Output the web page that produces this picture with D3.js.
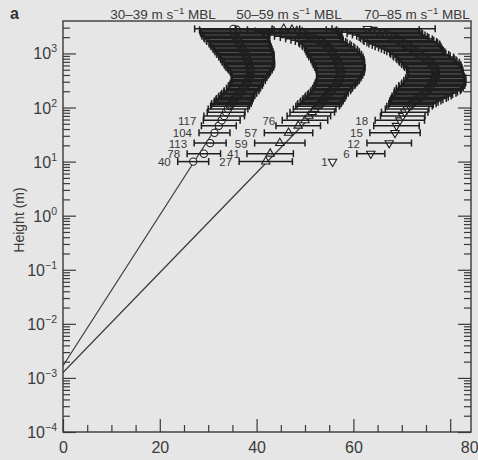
<!DOCTYPE html>
<html><head><meta charset="utf-8">
<script src="https://cdn.jsdelivr.net/npm/d3@7"></script>
<style>
body{margin:0;background:#e6e6e6;}
svg{display:block;font-family:"Liberation Sans",Arial,Helvetica,sans-serif;}
</style>
</head><body>
<svg id="c" width="478" height="460"></svg>
<script>
// ---------- data ----------
const categories = ["30–39", "50–59", "70–85"];
const heights = [10,14,22,34,46,58,70,82,94,106,
  112,118,125,132,139,147,155,164,173,183,
  193,204,216,228,241,255,269,284,300,317,
  335,354,374,395,418,442,467,494,522,552,
  583,616,651,688,727,768,812,858,907,959,
  1013,1071,1132,1196,1264,1336,1412,1492,1577,1667,
  1762,1862,1968,2080,2198,2323,2455,2595,2743,2850];

const meanA = [26.9,29.1,30.4,31.3,32.2,32.8,33.3,33.7,34.1,34.5,
  34.6,34.8,35.0,35.2,35.3,35.5,35.7,35.9,36.1,36.4,
  36.6,36.9,37.1,37.3,37.5,37.7,37.8,38.0,38.1,38.3,
  38.4,38.5,38.5,38.6,38.7,38.7,38.7,38.7,38.6,38.6,
  38.5,38.5,38.4,38.3,38.2,38.1,38.0,37.9,37.8,37.7,
  37.5,37.4,37.2,37.1,37.0,36.8,36.6,36.5,36.4,36.2,
  36.0,35.9,35.7,35.6,35.5,35.6,35.4,35.7,35.9,35.2];
const errA = [3.2,3.45,3.3,3.2,3.6,3.8,4.2,3.9,4.1,4.0,
  3.9,4.1,3.8,3.9,3.7,3.8,3.6,3.7,3.5,3.6,
  3.4,3.6,3.3,3.5,3.3,3.5,3.3,3.4,3.3,3.5,
  3.4,3.6,3.6,3.8,3.9,4.1,4.2,4.5,4.6,4.9,
  5.0,5.2,5.1,5.4,5.3,5.5,5.5,5.7,5.6,5.9,
  5.8,6.0,5.9,6.1,6.0,6.2,6.1,6.3,6.2,6.5,
  6.4,6.7,6.6,6.9,6.8,7.1,7.0,7.4,7.7,8.0];

const meanB = [41.9,42.8,44.8,46.6,48.6,50.0,50.8,51.5,52.0,52.6,
  52.8,53.0,53.3,53.5,53.7,53.9,54.1,54.3,54.5,54.8,
  55.0,55.3,55.5,55.7,55.9,56.1,56.3,56.4,56.6,56.8,
  56.9,57.0,57.1,57.2,57.2,57.3,57.3,57.3,57.3,57.2,
  57.1,57.0,57.0,56.9,56.8,56.7,56.6,56.4,56.2,56.1,
  55.9,55.7,55.6,55.4,55.1,54.8,54.5,54.1,53.7,53.2,
  52.5,51.9,51.2,50.5,49.9,49.2,49.4,48.3,47.3,45.6];
const errB = [5.5,4.8,5.2,5.0,4.6,4.7,4.5,4.6,4.4,4.5,
  4.4,4.5,4.3,4.4,4.2,4.3,4.1,4.2,4.0,4.1,
  3.9,4.1,4.0,4.1,4.0,4.2,4.1,4.3,4.3,4.4,
  4.4,4.6,4.5,4.7,4.7,4.9,4.8,5.0,5.0,5.2,
  5.1,5.3,5.2,5.4,5.3,5.5,5.4,5.6,5.4,5.6,
  5.4,5.5,5.3,5.4,5.2,5.3,5.1,5.2,5.0,5.2,
  5.4,5.9,6.3,6.8,7.2,7.7,8.2,8.6,9.2,10.0];

const meanC = [55.7,63.6,67.4,68.6,68.9,69.6,70.2,70.6,71.1,71.6,
  71.9,72.2,72.5,72.8,73.1,73.5,73.8,74.1,74.5,74.8,
  75.0,75.3,75.6,75.8,76.0,76.2,76.4,76.6,76.7,76.8,
  76.9,77.0,77.0,77.0,77.0,77.0,76.9,76.8,76.7,76.5,
  76.3,76.1,75.9,75.7,75.4,75.1,74.8,74.5,74.1,73.7,
  73.3,72.9,72.5,72.1,71.7,71.3,70.9,70.5,70.1,69.7,
  69.3,68.9,68.4,68.0,67.3,66.5,65.8,64.9,64.0,62.9];
const errC = [0,2.9,4.6,5.2,4.7,5.1,4.6,4.8,4.5,4.7,
  4.6,4.9,5.0,5.3,5.4,5.7,5.8,6.1,6.0,6.4,
  6.5,6.8,6.7,6.9,6.6,6.8,6.5,6.6,6.3,6.4,
  6.1,6.2,5.9,5.8,5.6,5.7,5.6,5.8,5.7,5.9,
  5.9,6.1,6.0,6.2,6.0,6.1,6.0,6.2,5.9,6.0,
  5.8,6.0,6.1,6.3,6.5,6.8,7.0,7.3,7.3,7.5,
  7.3,7.4,7.2,7.3,7.5,7.8,8.2,8.7,9.6,14.0];

// sample counts shown at the lowest levels
const countHeights = [10,14,22,34,58];
const countsA = [40,78,113,104,117];
const countsB = [27,41,59,57,76];
const countsC = [1,6,12,15,18];

// log-law fit lines (speed, height)
const fitSpeed1 = [0,34],  fitHeight1 = [0.00168,91];
const fitSpeed2 = [0,53],  fitHeight2 = [0.00126,99];

const xTicks = [0,20,40,60,80];
const xMinor = [5,10,15,25,30,35,45,50,55,65,70,75];
const yExponents = [-4,-3,-2,-1,0,1,2,3];

// ---------- chart ----------
const ink = "#1e1e1e", txt = "#3a3a3a";
const svg = d3.select("#c");
const x = d3.scaleLinear().domain([0,84.3]).range([63,471]);
const y = d3.scaleLog().domain([1e-4,3981]).range([432,21]);

const yMajor = yExponents.map(e => Math.pow(10,e));
const yMinor = [];
yExponents.forEach(e => { for (let k=2;k<=9;k++){ const v=k*Math.pow(10,e); if (v < 3981) yMinor.push(v);} });

function styleAxis(g){
  g.select(".domain").remove();
  g.selectAll(".tick line").attr("stroke", "#3a3a3a").attr("stroke-width",1.2);
}
svg.append("g").attr("transform","translate(63,0)")
  .call(d3.axisLeft(y).tickValues(yMajor).tickSize(-13).tickFormat("")).call(styleAxis);
svg.append("g").attr("transform","translate(63,0)")
  .call(d3.axisLeft(y).tickValues(yMinor).tickSize(-7).tickFormat("")).call(styleAxis);
svg.append("g").attr("transform","translate(471,0)")
  .call(d3.axisRight(y).tickValues(yMajor).tickSize(-13).tickFormat("")).call(styleAxis);
svg.append("g").attr("transform","translate(471,0)")
  .call(d3.axisRight(y).tickValues(yMinor).tickSize(-7).tickFormat("")).call(styleAxis);
const xg = svg.append("g").attr("transform","translate(0,432)")
  .call(d3.axisBottom(x).tickValues(xTicks).tickSize(-13).tickPadding(10).tickFormat(d3.format("d")));
styleAxis(xg);
xg.selectAll("text").attr("font-size",16).attr("fill",txt).attr("font-family","Liberation Sans, Arial, sans-serif");
xg.selectAll(".tick").filter(d => d===80).select("text").attr("x",19);
svg.append("g").attr("transform","translate(0,432)")
  .call(d3.axisBottom(x).tickValues(xMinor).tickSize(-7).tickFormat("")).call(styleAxis);

const yl = svg.append("g").selectAll("text").data(yExponents).join("text")
  .attr("x",57).attr("y",d=>y(Math.pow(10,d))+6)
  .attr("text-anchor","end").attr("fill",txt).attr("font-size",16);
yl.append("tspan").text("10");
yl.append("tspan").attr("dy",-7).attr("font-size",10.5).text(d => d<0 ? "−"+(-d) : String(d));

svg.append("rect").attr("x",63).attr("y",21).attr("width",408).attr("height",411)
  .attr("fill","none").attr("stroke","#3a3a3a").attr("stroke-width",1.4);

svg.append("text").attr("transform","translate(24,220) rotate(-90)")
  .attr("text-anchor","middle").attr("fill",txt).attr("font-size",14).text("Height (m)");
svg.append("text").attr("x",10).attr("y",19).attr("font-size",16).attr("font-weight","bold")
  .attr("fill","#333").text("a");

const line = d3.line().x(d=>x(d[0])).y(d=>y(d[1]));
[[fitSpeed1,fitHeight1],[fitSpeed2,fitHeight2]].forEach(([s,h])=>{
  svg.append("path").attr("d", line(s.map((v,i)=>[v,h[i]])))
    .attr("fill","none").attr("stroke","#3a3a3a").attr("stroke-width",1.2);
});

const series = [
  {mean:meanA, err:errA, n:countsA, sym:d3.symbolCircle, size:42, rot:0},
  {mean:meanB, err:errB, n:countsB, sym:d3.symbolTriangle, size:30, rot:0},
  {mean:meanC, err:errC, n:countsC, sym:d3.symbolTriangle, size:30, rot:180},
];

const titleCenters = [163, 289, 417];
categories.forEach((c,i)=>{
  const t = svg.append("text").attr("x", titleCenters[i]).attr("y",18.5)
    .attr("text-anchor","middle").attr("font-size",13.5).attr("fill",txt);
  t.append("tspan").text(c+" m s");
  t.append("tspan").attr("dy",-5).attr("font-size",9.5).text("−1");
  t.append("tspan").attr("dy",5).text(" MBL");
});

series.forEach(s=>{
  const rows = heights.map((h,i)=>({h, m:s.mean[i], e:s.err[i]}));
  const g = svg.append("g");
  g.selectAll("path.mk").data(rows).join("path").attr("class","mk")
    .attr("d", d3.symbol().type(s.sym).size(s.size)())
    .attr("transform", d=>`translate(${x(d.m)},${y(d.h)}) rotate(${s.rot})`)
    .attr("fill","#f4f4f4").attr("stroke",ink).attr("stroke-width",1.1);
  const eb = g.selectAll("g.eb").data(rows.filter(d=>d.e>0)).join("g").attr("class","eb")
    .attr("stroke",ink).attr("stroke-width",1.5);
  eb.append("line").attr("x1",d=>x(d.m-d.e)).attr("x2",d=>x(d.m+d.e))
    .attr("y1",d=>y(d.h)).attr("y2",d=>y(d.h));
  eb.append("line").attr("x1",d=>x(d.m-d.e)).attr("x2",d=>x(d.m-d.e))
    .attr("y1",d=>y(d.h)-3.5).attr("y2",d=>y(d.h)+3.5);
  eb.append("line").attr("x1",d=>x(d.m+d.e)).attr("x2",d=>x(d.m+d.e))
    .attr("y1",d=>y(d.h)-3.5).attr("y2",d=>y(d.h)+3.5);
  g.selectAll("text").data(countHeights).join("text")
    .attr("x",(h)=>{ const k=heights.indexOf(h); return x(s.mean[k]-s.err[k]) - (s.err[k]>0?7:5); })
    .attr("y",h=>y(h)+4.5)
    .attr("text-anchor","end").attr("font-size",11.5).attr("fill",txt)
    .text((h,i)=>s.n[i]);
});
</script>
</body></html>
